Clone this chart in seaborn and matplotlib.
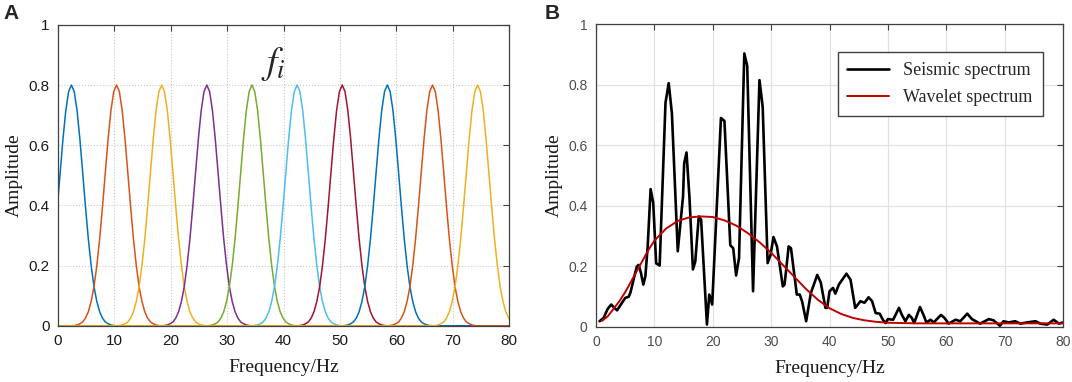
import matplotlib
matplotlib.use("Agg")

import matplotlib.pyplot as plt
import numpy as np
import pandas as pd
import seaborn as sns

# --- panel A: Gaussian filter bank ---
centers_a = [2.4, 10.4, 18.4, 26.4, 34.4, 42.4, 50.4, 58.4, 66.4, 74.4]
# one filter's half profile (offset from centre in Hz)
profile_offset = [0.0, 0.5, 1.0, 1.5, 2.0, 2.5, 3.0, 3.5, 4.0,
                  4.5, 5.0, 5.5, 6.0, 6.5, 7.0, 7.5, 8.0]
profile_amp = [0.800, 0.778, 0.715, 0.620, 0.508, 0.394, 0.288, 0.200, 0.130,
               0.081, 0.047, 0.026, 0.013, 0.007, 0.003, 0.001, 0.000]
filter_colors = ["#0072BD", "#D95319", "#EDB120", "#7E2F8E", "#77AC30",
                 "#4DBEEE", "#A2142F", "#0072BD", "#D95319", "#EDB120"]

# --- panel B: seismic vs wavelet spectrum ---
seismic_freq = [0.6, 1.3, 2.0, 2.6, 3.3, 3.6, 4.45, 5.0, 5.6, 5.9, 6.7, 7.0, 7.3,
                7.7, 8.1, 8.45, 8.85, 9.35, 9.8, 10.3, 10.9, 11.9, 12.45, 13.0,
                14.0, 14.9, 15.1, 15.5, 16.0, 16.6, 17.0, 17.6, 18.0, 19.0, 19.4,
                19.9, 21.4, 22.0, 23.0, 23.5, 24.0, 24.5, 25.4, 25.9, 26.9, 28.0,
                28.55, 29.4, 29.9, 30.4, 31.0, 32.0, 32.3, 33.0, 33.4, 34.4, 34.9,
                35.3, 36.0, 36.8, 37.9, 38.5, 39.3, 39.6, 40.0, 40.6, 41.0, 41.6,
                42.9, 43.6, 44.4, 45.3, 46.0, 46.7, 47.3, 47.9, 48.6, 49.2, 49.6,
                50.0, 50.9, 51.9, 52.4, 53.0, 53.6, 54.1, 54.5, 55.5, 56.1, 56.6,
                57.3, 57.85, 59.1, 59.7, 60.4, 61.6, 62.4, 63.6, 64.4, 65.8, 67.3,
                68.1, 69.2, 69.8, 70.7, 71.8, 72.7, 73.8, 75.3, 76.1, 77.3, 78.4,
                79.3, 80.0]
seismic_amp = [0.019, 0.030, 0.060, 0.074, 0.060, 0.055, 0.080, 0.096, 0.100, 0.114,
               0.178, 0.200, 0.205, 0.178, 0.140, 0.167, 0.266, 0.455, 0.410, 0.210,
               0.203, 0.740, 0.805, 0.705, 0.250, 0.430, 0.540, 0.576, 0.430, 0.190,
               0.216, 0.365, 0.355, 0.008, 0.107, 0.074, 0.690, 0.680, 0.270, 0.260,
               0.170, 0.228, 0.903, 0.862, 0.118, 0.815, 0.727, 0.211, 0.238, 0.297,
               0.266, 0.134, 0.140, 0.266, 0.260, 0.107, 0.107, 0.085, 0.019, 0.112,
               0.172, 0.147, 0.063, 0.063, 0.118, 0.129, 0.110, 0.140, 0.176, 0.156,
               0.063, 0.085, 0.080, 0.098, 0.085, 0.046, 0.044, 0.022, 0.013, 0.026,
               0.024, 0.063, 0.040, 0.019, 0.040, 0.030, 0.013, 0.066, 0.040, 0.015,
               0.024, 0.015, 0.040, 0.030, 0.011, 0.024, 0.019, 0.044, 0.026, 0.011,
               0.026, 0.022, 0.004, 0.019, 0.015, 0.019, 0.011, 0.015, 0.019, 0.011,
               0.008, 0.024, 0.011, 0.015]
wavelet_freq = [1, 2, 3, 4, 5, 6, 7, 8, 9, 10, 12, 14, 16, 18, 20, 22, 24, 26, 28,
                30, 32, 34, 36, 38, 40, 42, 44, 46, 48, 50, 55, 60, 70, 80]
wavelet_amp = [0.020, 0.035, 0.060, 0.085, 0.115, 0.150, 0.185, 0.220, 0.255, 0.285,
               0.325, 0.350, 0.362, 0.365, 0.363, 0.352, 0.335, 0.310, 0.280, 0.245,
               0.205, 0.165, 0.125, 0.090, 0.062, 0.043, 0.030, 0.022, 0.017, 0.014,
               0.012, 0.012, 0.012, 0.012]

sns.set_theme(style="white")
plt.rcParams["font.family"] = ["Liberation Sans", "DejaVu Sans"]
plt.rcParams["mathtext.fontset"] = "stix"

SERIF = ["Liberation Serif", "DejaVu Serif"]

# full symmetric profile, each filter shifted to its centre
full_off = [-o for o in profile_offset[::-1]] + profile_offset[1:]
full_amp = profile_amp[::-1] + profile_amp[1:]
rows = []
for i, c in enumerate(centers_a):
    xs = [c + o for o in full_off]
    ys = list(full_amp)
    if xs[0] > 0:
        xs, ys = [0.0] + xs, [0.0] + ys
    if xs[-1] < 80:
        xs, ys = xs + [80.0], ys + [0.0]
    rows += [{"filter": i, "freq": x, "amp": y} for x, y in zip(xs, ys)]
df_a = pd.DataFrame(rows)

df_seis = pd.DataFrame({"freq": seismic_freq, "amp": seismic_amp})
df_wav = pd.DataFrame({"freq": wavelet_freq, "amp": wavelet_amp})

fig = plt.figure(figsize=(10.72, 3.82), dpi=100)
ax_a = fig.add_axes([0.054, 0.147, 0.421, 0.788])
ax_b = fig.add_axes([0.556, 0.144, 0.4356, 0.793])

# panel A
sns.lineplot(data=df_a, x="freq", y="amp", hue="filter", palette=filter_colors,
             estimator=None, sort=False, legend=False, lw=1.1, ax=ax_a)
ax_a.text(38.2, 0.87, r"$f_i$", fontsize=27, ha="center", va="center")
ax_a.grid(True, ls=":", color="#c8c8c8", lw=0.8)

# panel B
sns.lineplot(data=df_seis, x="freq", y="amp", color="black", lw=1.9,
             estimator=None, sort=False, ax=ax_b, label="Seismic spectrum")
sns.lineplot(data=df_wav, x="freq", y="amp", color="#C00000", lw=1.4,
             estimator=None, sort=False, ax=ax_b, label="Wavelet spectrum")
ax_b.grid(True, ls="-", color="#e2e2e2", lw=0.9)
leg = ax_b.legend(loc="upper right", bbox_to_anchor=(0.976, 0.936),
                  prop={"family": SERIF, "size": 13}, fancybox=False,
                  edgecolor="#404040", framealpha=1, handlelength=2.3,
                  handletextpad=0.8, labelspacing=0.55, borderpad=0.55)
leg.get_frame().set_linewidth(1.0)

for ax, tcol, tsize in [(ax_a, "#1a1a1a", 11), (ax_b, "#4d4d4d", 10)]:
    ax.set_xlim(0, 80)
    ax.set_ylim(0, 1)
    ax.set_xticks(np.arange(0, 81, 10))
    ax.set_yticks([0, 0.2, 0.4, 0.6, 0.8, 1])
    ax.set_yticklabels(["0", "0.2", "0.4", "0.6", "0.8", "1"])
    ax.tick_params(direction="in", top=True, right=True, length=4, width=0.8,
                   colors="#404040", labelcolor=tcol, labelsize=tsize, pad=6)
    ax.set_axisbelow(True)
    for sp in ax.spines.values():
        sp.set_color("#404040")
        sp.set_linewidth(0.9)
    ax.set_xlabel("Frequency/Hz", family=SERIF, fontsize=14, labelpad=8,
                  color="#1a1a1a")
    ax.set_ylabel("Amplitude", family=SERIF, fontsize=14, labelpad=4,
                  color="#1a1a1a")

fig.text(0.003, 0.965, "A", fontsize=15, fontweight="bold", va="center")
fig.text(0.508, 0.965, "B", fontsize=15, fontweight="bold", va="center")

fig.savefig("out.png", dpi=100)
